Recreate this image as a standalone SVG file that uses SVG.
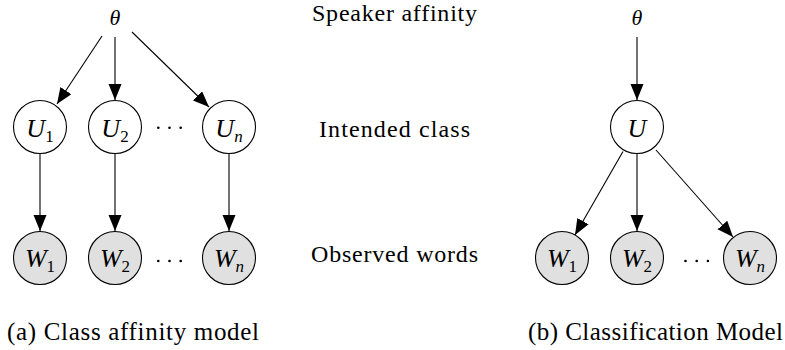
<svg xmlns="http://www.w3.org/2000/svg" width="785" height="350" viewBox="0 0 785 350">
<defs>
<marker id="ah" markerUnits="userSpaceOnUse" markerWidth="17" markerHeight="14" refX="16" refY="6.5" orient="auto">
<path d="M0,0 L16,6.5 L0,13 Z" fill="#000"/>
</marker>
<style>
text{font-family:'Liberation Serif','Times New Roman','DejaVu Serif','Noto Serif',Times,serif;fill:#000}
.lbl{font-size:24px}
.cap{font-size:25px}
.m{font-style:italic;font-size:26px;text-anchor:middle}
.th{font-style:italic;font-size:22px;text-anchor:middle}
.sub{font-style:normal;font-size:17px}
.subi{font-size:17px}
.u{fill:#fff;stroke:#000;stroke-width:1.1}
.w{fill:#e0e0e0;stroke:#000;stroke-width:1.1}
.e{stroke:#000;stroke-width:1.1;fill:none;marker-end:url(#ah)}
.dot{fill:#000}
</style>
</defs>
<rect width="785" height="350" fill="#fff"/>

<g id="edges">
<line class="e" x1="102" y1="36" x2="57" y2="104"/>
<line class="e" x1="115" y1="37" x2="115" y2="100"/>
<line class="e" x1="132" y1="32" x2="209" y2="107"/>
<line class="e" x1="40" y1="153.5" x2="40" y2="231"/>
<line class="e" x1="115" y1="153.5" x2="115" y2="231"/>
<line class="e" x1="229" y1="153.5" x2="229" y2="231"/>
<line class="e" x1="637" y1="37" x2="637" y2="100"/>
<line class="e" x1="623" y1="151.5" x2="575" y2="235"/>
<line class="e" x1="637" y1="153.5" x2="637" y2="231"/>
<line class="e" x1="656" y1="150" x2="733" y2="237"/>
</g>

<g id="theta-a"><text class="th" x="115" y="25" font-family="Liberation Serif, serif">θ</text></g>
<g id="U1"><circle class="u" cx="40" cy="127" r="26.5"/><text class="m" x="40" y="137" font-family="Liberation Serif, serif">U<tspan class="sub" dy="5">1</tspan></text></g>
<g id="U2"><circle class="u" cx="115" cy="127" r="26.5"/><text class="m" x="115" y="137" font-family="Liberation Serif, serif">U<tspan class="sub" dy="5">2</tspan></text></g>
<g id="Un"><circle class="u" cx="229" cy="127" r="26.5"/><text class="m" x="229" y="137" font-family="Liberation Serif, serif">U<tspan class="subi" dy="5">n</tspan></text></g>
<g id="W1"><circle class="w" cx="40" cy="258" r="26.5"/><text class="m" x="40" y="267" font-family="Liberation Serif, serif">W<tspan class="sub" dy="5">1</tspan></text></g>
<g id="W2"><circle class="w" cx="115" cy="258" r="26.5"/><text class="m" x="115" y="267" font-family="Liberation Serif, serif">W<tspan class="sub" dy="5">2</tspan></text></g>
<g id="Wn"><circle class="w" cx="229" cy="258" r="26.5"/><text class="m" x="229" y="267" font-family="Liberation Serif, serif">W<tspan class="subi" dy="5">n</tspan></text></g>
<g id="dots-a">
<circle class="dot" cx="158.3" cy="127.7" r="1.3"/><circle class="dot" cx="169.5" cy="127.7" r="1.3"/><circle class="dot" cx="180.7" cy="127.7" r="1.3"/>
<circle class="dot" cx="158.3" cy="261" r="1.3"/><circle class="dot" cx="169.5" cy="261" r="1.3"/><circle class="dot" cx="180.7" cy="261" r="1.3"/>
</g>

<g id="theta-b"><text class="th" x="637" y="25" font-family="Liberation Serif, serif">θ</text></g>
<g id="U"><circle class="u" cx="637" cy="127" r="26.5"/><text class="m" x="637" y="137" font-family="Liberation Serif, serif">U</text></g>
<g id="Wb1"><circle class="w" cx="562" cy="258" r="26.5"/><text class="m" x="562" y="267" font-family="Liberation Serif, serif">W<tspan class="sub" dy="5">1</tspan></text></g>
<g id="Wb2"><circle class="w" cx="637" cy="258" r="26.5"/><text class="m" x="637" y="267" font-family="Liberation Serif, serif">W<tspan class="sub" dy="5">2</tspan></text></g>
<g id="Wbn"><circle class="w" cx="750" cy="258" r="26.5"/><text class="m" x="750" y="267" font-family="Liberation Serif, serif">W<tspan class="subi" dy="5">n</tspan></text></g>
<g id="dots-b">
<circle class="dot" cx="685.5" cy="261" r="1.3"/><circle class="dot" cx="696.7" cy="261" r="1.3"/><circle class="dot" cx="707.9" cy="261" r="1.3"/>
</g>

<g id="labels">
<text class="lbl" x="312" y="21" textLength="165" font-family="Liberation Serif, serif">Speaker affinity</text>
<text class="lbl" x="319" y="136.5" textLength="151" font-family="Liberation Serif, serif">Intended class</text>
<text class="lbl" x="311" y="262" textLength="167" font-family="Liberation Serif, serif">Observed words</text>
<text class="cap" x="7" y="340" textLength="252" font-family="Liberation Serif, serif">(a) Class affinity model</text>
<text class="cap" x="528" y="340" textLength="255" font-family="Liberation Serif, serif">(b) Classification Model</text>
</g>
</svg>
